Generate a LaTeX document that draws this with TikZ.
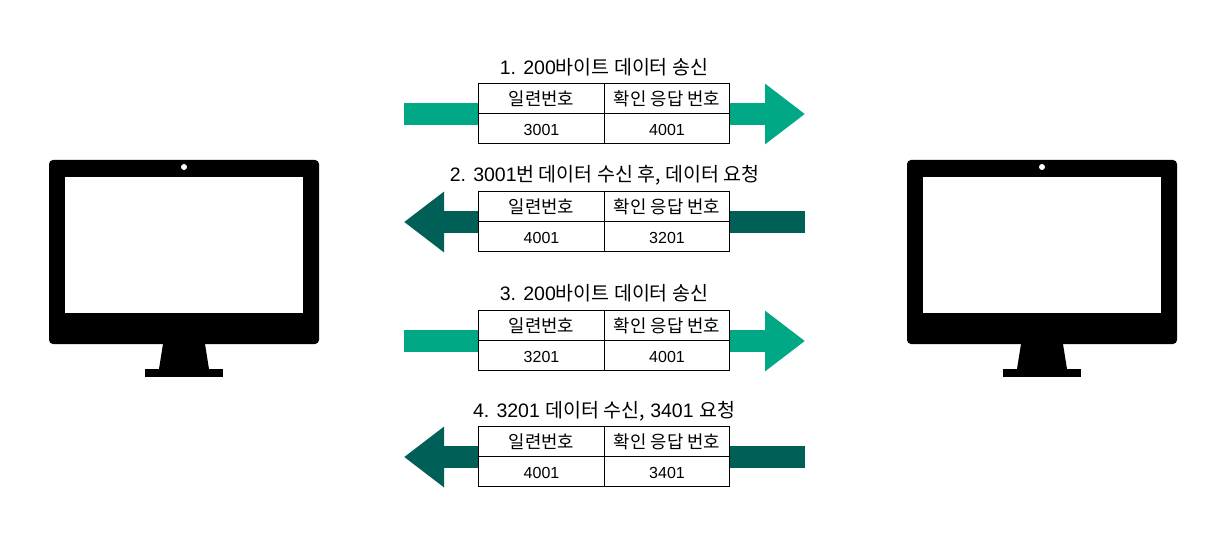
\documentclass[tikz,border=0pt]{standalone}
\usepackage{fontspec}
\setmainfont{Liberation Sans}
\newfontfamily\hg{Noto Sans CJK KR}
\usetikzlibrary{arrows.meta}
\definecolor{colorsend}{HTML}{00A885}
\definecolor{colorrecv}{HTML}{006058}
\tikzset{
  edgesend/.style={colorsend,line width=22pt,-{Triangle[length=40pt,width=58pt]}},
  edgerecv/.style={colorrecv,line width=22pt,-{Triangle[length=40pt,width=58pt]}},
  cell/.style={draw,fill=white,line width=1pt,inner sep=0pt,outer sep=0pt,minimum height=30pt},
  cellL/.style={cell,minimum width=126pt},
  cellR/.style={cell,minimum width=125pt},
  numcell/.style={text height=14pt,text depth=0pt,font=\fontsize{16}{18}\selectfont},
  title/.style={inner sep=0pt,font=\fontsize{19.5}{22}\selectfont}
}
\begin{document}
\begin{tikzpicture}[x=1pt,y=-1pt]
\useasboundingbox (0,0) rectangle (1220,556);
% monitors
\foreach \name/\dx in {pcA/0,pcB/858} {
  \begin{scope}[xshift=\dx pt]
  \fill[rounded corners=4pt] (49,160) rectangle (319,344);
  \node[fill=white,inner sep=0pt,minimum width=238pt,minimum height=136pt] (\name) at (184,245) {};
  \fill[white] (184,167) circle (3);
  \fill (163,344) -- (205,344) -- (209,369) -- (159,369) -- cycle;
  \fill (145,369) rectangle (223,377);
  \end{scope}
}
% arrows, behind the tables
\coordinate (s1) at (404,114);
\coordinate (e1) at (805,114);
\coordinate (s2) at (805,222);
\coordinate (e2) at (404,222);
\coordinate (s3) at (404,341);
\coordinate (e3) at (805,341);
\coordinate (s4) at (805,457);
\coordinate (e4) at (404,457);
\draw[edgesend] (s1) -- (e1);
\draw[edgerecv] (s2) -- (e2);
\draw[edgesend] (s3) -- (e3);
\draw[edgerecv] (s4) -- (e4);
% tables
\foreach \i/\y/\seq/\ack in {1/98.5/3001/4001,2/206.5/4001/3201,3/325.5/3201/4001,4/441.5/4001/3401} {
  \node[cellL] (seqh\i) at (541.5,\y) {\hg\fontsize{17.8}{20}\selectfont 일련번호};
  \node[cellR] (ackh\i) at (667,\y) {\hg\fontsize{17.8}{20}\selectfont 확인 응답 번호};
  \node[cellL,numcell,below=0pt] (seq\i) at (seqh\i.south) {\seq};
  \node[cellR,numcell,below=0pt] (ack\i) at (ackh\i.south) {\ack};
}
\node[title] (t1) at (604,67.5) {1. 200{\hg 바이트 데이터 송신}};
\node[title] (t2) at (604.5,175.5) {2. 3001{\hg 번 데이터 수신 후, 데이터 요청}};
\node[title] (t3) at (604,293.5) {3. 200{\hg 바이트 데이터 송신}};
\node[title] (t4) at (604,411.5) {4. 3201 {\hg 데이터 수신,} 3401 {\hg 요청}};
\end{tikzpicture}
\end{document}
